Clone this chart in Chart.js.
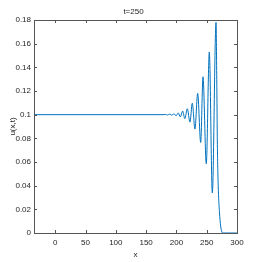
<!DOCTYPE html>
<html><head><meta charset="utf-8">
<script src="https://cdn.jsdelivr.net/npm/chart.js@4"></script>
<style>html,body{margin:0;padding:0;background:#fff;}canvas{display:block;}</style>
</head><body>
<canvas id="c" width="262" height="262"></canvas>
<script>
const titleText = "t=250";
const xLabel = "x";
const yLabel = "u(x,t)";
const xTicks = [0, 50, 100, 150, 200, 250, 300];
const yTicks = [0, 0.02, 0.04, 0.06, 0.08, 0.1, 0.12, 0.14, 0.16, 0.18];
const xValues = [-35, 178, 182, 185.5, 189, 192.5, 196, 199.5, 203, 206.5, 210.3, 214, 217.9, 222.4, 226.2, 230.6, 235.1, 240.1, 243.9, 249.3, 254.3, 259.3, 265.4, 266.6, 267.6, 269, 271, 273, 275, 277, 300];
const uValues = [0.1, 0.1, 0.1002, 0.0997, 0.1005, 0.0995, 0.1008, 0.0990, 0.1015, 0.0982, 0.1030, 0.0966, 0.105, 0.0937, 0.1097, 0.0878, 0.118, 0.0765, 0.132, 0.0585, 0.153, 0.0338, 0.178, 0.13, 0.075, 0.04, 0.018, 0.006, 0.001, 0, 0];

const points = xValues.map((x, i) => ({x: x, y: uValues[i]}));
const FONT = "'Liberation Sans Narrow', 'Liberation Sans', Arial, sans-serif";
const TXT = '#262626';

const boxPlugin = {
  id: 'box',
  afterDraw(chart) {
    const {ctx, chartArea: a, scales} = chart;
    ctx.save();
    ctx.strokeStyle = '#555';
    ctx.lineWidth = 1;
    ctx.strokeRect(Math.round(a.left) + 0.5, Math.round(a.top) + 0.5, Math.round(a.right - a.left), Math.round(a.bottom - a.top));
    const L = 3;
    ctx.beginPath();
    xTicks.forEach(v => {
      const px = Math.round(scales.x.getPixelForValue(v)) + 0.5;
      ctx.moveTo(px, a.bottom); ctx.lineTo(px, a.bottom - L);
      ctx.moveTo(px, a.top); ctx.lineTo(px, a.top + L);
    });
    yTicks.forEach(v => {
      const py = Math.round(scales.y.getPixelForValue(v)) + 0.5;
      ctx.moveTo(a.left, py); ctx.lineTo(a.left + L, py);
      ctx.moveTo(a.right, py); ctx.lineTo(a.right - L, py);
    });
    ctx.stroke();
    ctx.fillStyle = TXT;
    ctx.font = "8px " + FONT;
    ctx.textAlign = 'center';
    ctx.textBaseline = 'middle';
    ctx.fillText(titleText, (a.left + a.right) / 2 - 2, 12);
    ctx.restore();
  }
};

new Chart(document.getElementById('c'), {
  type: 'line',
  data: { datasets: [{
    data: points,
    borderColor: '#0072BD',
    borderWidth: 1,
    pointRadius: 0,
    fill: false,
    cubicInterpolationMode: 'monotone'
  }]},
  options: {
    responsive: false,
    animation: false,
    devicePixelRatio: 1,
    layout: { padding: { top: 20, right: 25, left: 0, bottom: 0 } },
    plugins: { legend: { display: false }, tooltip: { enabled: false }, title: { display: false } },
    scales: {
      x: {
        type: 'linear', min: -35, max: 300,
        afterBuildTicks: s => { s.ticks = xTicks.map(v => ({value: v})); },
        afterFit: s => { s.height = 29; },
        grid: { display: false, drawTicks: false },
        border: { display: false },
        ticks: { color: TXT, font: { size: 8, family: FONT }, padding: 5, maxRotation: 0, callback: v => String(v) },
        title: { display: true, text: xLabel, color: TXT, font: { size: 8, family: FONT }, padding: { top: 0, bottom: 2 } }
      },
      y: {
        type: 'linear', min: 0, max: 0.18,
        afterBuildTicks: s => { s.ticks = yTicks.map(v => ({value: v})); },
        afterFit: s => { s.width = 34; },
        grid: { display: false, drawTicks: false },
        border: { display: false },
        ticks: { color: TXT, font: { size: 8, family: FONT }, padding: 3, callback: v => String(Number(v.toFixed(2))) },
        title: { display: true, text: yLabel, color: TXT, font: { size: 8, family: FONT }, padding: { top: 8, bottom: 0 } }
      }
    }
  },
  plugins: [boxPlugin]
});
</script>
</body></html>
